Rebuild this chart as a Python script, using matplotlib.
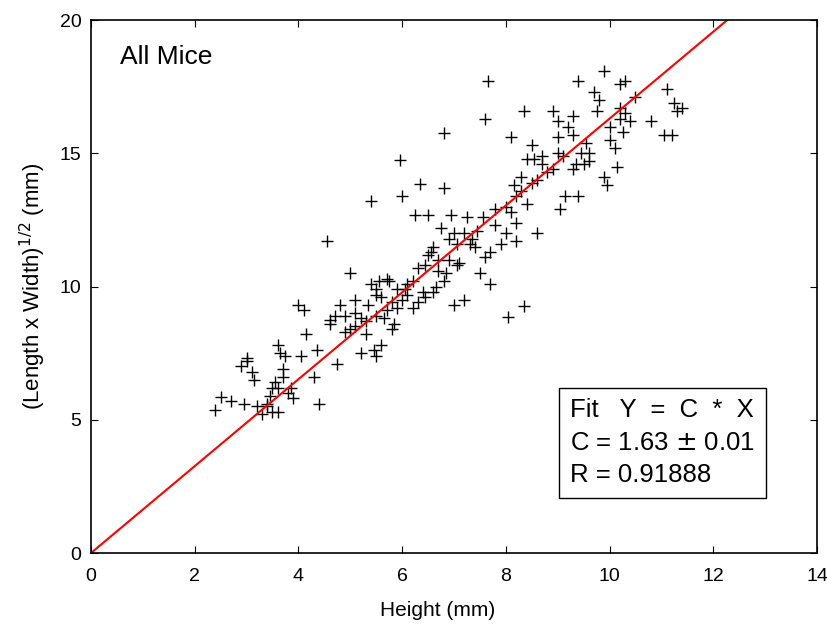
import numpy as np
import matplotlib.pyplot as plt
from matplotlib.ticker import MultipleLocator

plt.rcParams['font.family'] = ['Liberation Sans', 'DejaVu Sans']

# Height (mm) vs sqrt(Length x Width) (mm)
height = [2.4, 2.5, 2.7, 2.9, 3.0, 3.0, 2.95, 3.1, 3.2, 3.15, 3.3, 3.4, 3.45, 3.5, 3.5,
          3.6, 3.55, 3.6, 3.65, 3.7, 3.75, 3.8, 3.7, 3.85, 3.9, 4.0, 4.1, 4.05, 4.15, 4.3,
          4.35, 4.4, 4.55, 4.6, 4.7, 4.75, 4.8, 4.9, 5.0, 5.0, 5.1, 5.1, 5.2, 5.3, 5.3,
          5.35, 5.4, 5.4, 5.45, 5.5, 5.5, 5.55, 5.6, 5.6, 5.65, 5.7, 5.7, 5.75, 5.8, 5.85,
          5.9, 5.9, 5.95, 6.0, 6.05, 6.1, 6.2, 6.25, 6.3, 6.35, 6.4, 6.45, 6.5, 6.5, 6.6,
          6.6, 6.65, 6.7, 6.75, 6.8, 6.8, 6.85, 6.9, 6.95, 7.0, 7.05, 7.05, 7.1, 7.2, 7.25,
          7.3, 7.35, 7.45, 7.5, 7.55, 7.6, 7.6, 7.65, 7.7, 7.7, 7.8, 7.9, 8.0, 8.0, 8.05,
          8.1, 8.15, 8.2, 8.2, 8.2, 8.3, 8.35, 8.35, 8.4, 8.4, 8.5, 8.5, 8.55, 8.6, 8.7,
          8.8, 8.9, 9.0, 9.0, 9.05, 9.1, 9.15, 9.2, 9.3, 9.3, 9.35, 9.4, 9.4, 9.45, 9.5,
          9.55, 9.6, 9.7, 9.75, 9.8, 9.9, 9.9, 9.95, 10.0, 10.1, 10.15, 10.2, 10.2, 10.25, 10.3,
          10.3, 10.4, 10.5, 10.8, 11.05, 11.1, 11.2, 11.25, 11.3, 11.4,
          6.2, 6.3, 6.45, 6.0, 5.2, 5.5, 5.8, 6.7, 6.8, 6.9, 7.2, 7.4, 7.8, 8.1, 8.3,
          8.6, 8.9, 9.0, 9.3, 9.6, 8.7, 10.0, 10.2, 4.6, 4.9, 5.1, 5.5, 3.4, 3.6, 6.1,
          6.55, 7.0]
size = [5.35, 5.85, 5.7, 7.0, 7.3, 7.2, 5.6, 6.8, 5.5, 6.5, 5.2, 5.6, 5.9, 6.2, 5.3,
        5.3, 6.4, 7.8, 7.5, 6.9, 7.4, 6.0, 6.6, 6.2, 5.8, 9.3, 9.1, 7.4, 8.2, 6.6,
        7.6, 5.6, 11.7, 8.75, 8.9, 7.1, 9.3, 8.3, 8.4, 10.5, 8.5, 9.5, 7.5, 8.7, 8.2,
        9.3, 13.2, 10.1, 7.6, 7.4, 9.7, 10.2, 9.6, 7.8, 8.8, 9.1, 10.3, 10.2, 9.4, 8.6,
        9.9, 9.2, 14.75, 13.4, 9.9, 9.7, 10.2, 12.7, 10.7, 13.85, 9.8, 10.8, 11.2, 12.7, 9.8,
        11.5, 10.0, 11.0, 12.2, 13.7, 15.75, 10.5, 11.8, 12.7, 9.3, 11.6, 10.8, 10.9, 9.5, 12.6,
        11.6, 11.8, 12.1, 10.5, 12.6, 11.1, 16.3, 17.7, 11.3, 10.1, 12.3, 11.6, 12.0, 13.0, 8.85,
        15.6, 13.8, 13.4, 11.7, 12.4, 14.1, 16.6, 9.25, 14.8, 13.1, 15.3, 13.9, 14.8, 12.0, 14.6,
        14.3, 16.6, 16.2, 15.6, 12.9, 14.9, 13.4, 16.0, 16.4, 15.7, 14.6, 17.7, 13.4, 15.0, 14.6,
        15.4, 14.7, 17.3, 16.6, 17.0, 18.1, 14.1, 13.8, 15.5, 15.2, 14.5, 16.7, 17.6, 15.8, 16.5,
        17.7, 16.2, 17.1, 16.2, 15.7, 17.4, 15.7, 16.9, 16.6, 16.7,
        9.2, 9.4, 9.6, 9.5, 8.8, 8.9, 8.4, 10.6, 10.2, 11.0, 12.0, 11.5, 12.9, 12.8, 13.6,
        14.0, 14.4, 15.0, 14.4, 15.0, 14.9, 16.0, 16.3, 8.6, 8.9, 9.0, 9.9, 5.5, 6.2, 10.1,
        11.3, 12.0]

slope = 1.63
fit_x = np.array([0, 14])

fig = plt.figure(figsize=(8.28, 6.31), dpi=100)
ax = fig.add_axes([0.1099, 0.1236, 0.8768, 0.8447])

ax.plot(height, size, '+', color='black', markersize=9, markeredgewidth=1)
ax.plot(fit_x, slope * fit_x, color='red', linewidth=1.5)

ax.set_xlim(0, 14)
ax.set_ylim(0, 20)
ax.xaxis.set_major_locator(MultipleLocator(2))
ax.yaxis.set_major_locator(MultipleLocator(5))
ax.tick_params(direction='in', labelsize=14, length=5, top=True, right=True,
               labeltop=False, labelright=False)
ax.tick_params(axis='x', pad=11)
ax.tick_params(axis='y', pad=7)
for s in ax.spines.values():
    s.set_linewidth(1.2)

ax.set_xlabel('Height (mm)', fontsize=15, labelpad=11, x=0.478)
ax.set_ylabel(r'(Length x Width)$^{1/2}$ (mm)', fontsize=16, labelpad=8)

ax.text(0.04, 0.93, 'All Mice', transform=ax.transAxes, fontsize=19, va='center')

ax.text(9.24, 4.13, 'Fit   Y  =  C  *  X\nC = 1.63 $\\pm$ 0.01\nR = 0.91888',
        fontsize=18.5, va='center', ha='left', linespacing=1.45,
        bbox=dict(boxstyle='square,pad=0.42', facecolor='white', edgecolor='black', linewidth=1))

fig.savefig('out.png', dpi=100)
